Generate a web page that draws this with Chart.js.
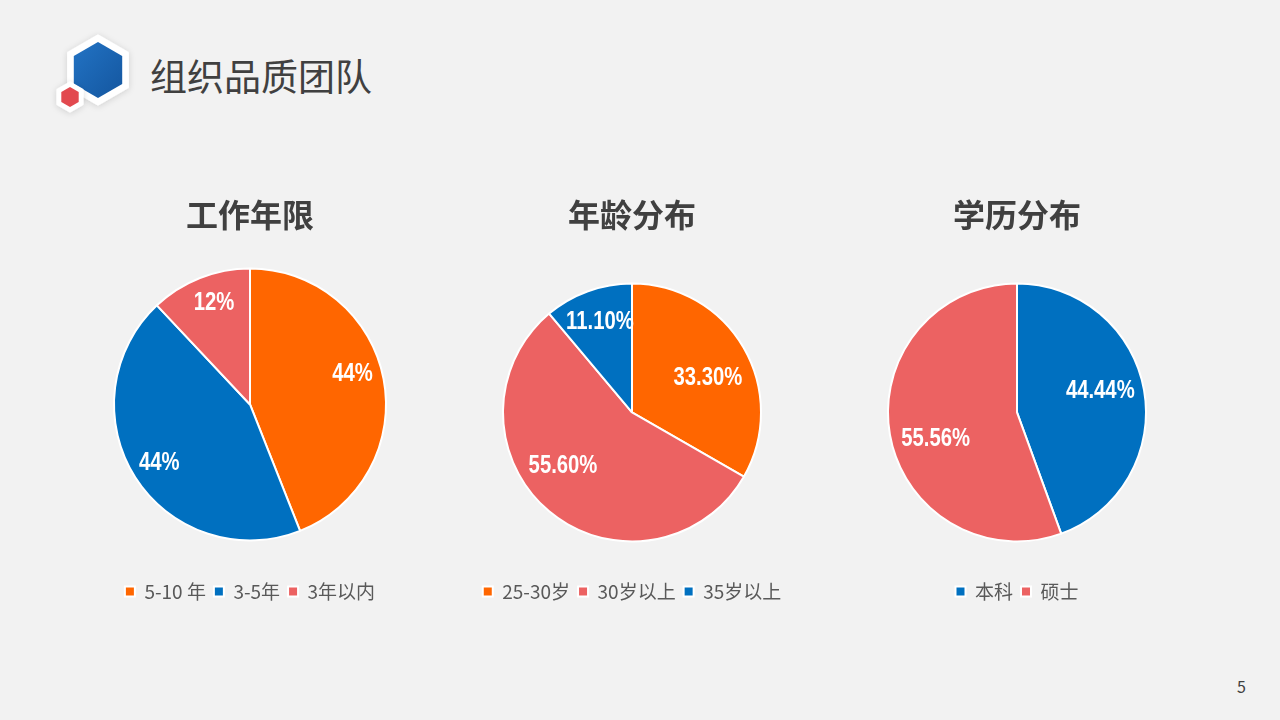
<!DOCTYPE html>
<html>
<head>
<meta charset="utf-8">
<script src="https://cdn.jsdelivr.net/npm/chart.js@4.4.1/dist/chart.umd.min.js"></script>
<style>
    html, body { margin: 0; padding: 0; background: #f2f2f2; }
    body {
        width: 1280px; height: 720px; position: relative; overflow: hidden;
        font-family: "Noto Sans CJK SC", "Noto Sans", sans-serif;
    }
    .logo { position: absolute; left: 0; top: 0; }
    .heading {
        position: absolute; left: 150px; top: 52px; height: 46px; line-height: 46px;
        font-size: 37px; color: #404040; font-weight: 400;
    }
    .page { position: absolute; left: 1237px; top: 674px; font-size: 16px; color: #404040; }
    canvas { position: absolute; top: 190px; }
</style>
</head>
<body>
<svg class="logo" width="160" height="130">
    <defs>
        <filter id="shadow" x="-30%" y="-30%" width="160%" height="160%">
            <feDropShadow dx="0" dy="1" stdDeviation="3" flood-color="#000" flood-opacity="0.15"/>
        </filter>
        <linearGradient id="blueGrad" x1="0" y1="0" x2="1" y2="1">
            <stop offset="0" stop-color="#2273c4"/>
            <stop offset="1" stop-color="#14569f"/>
        </linearGradient>
    </defs>
    <polygon points="98,36 127.4,53 127.4,87 98,104 68.6,87 68.6,53" fill="#fff" stroke="#fff" stroke-width="3" stroke-linejoin="round" filter="url(#shadow)"/>
    <polygon points="98,42 122.2,56 122.2,84 98,98 73.8,84 73.8,56" fill="url(#blueGrad)"/>
    <polygon points="70,83 82.1,90 82.1,104 70,111 57.9,104 57.9,90" fill="#fff" stroke="#fff" stroke-width="3" stroke-linejoin="round" filter="url(#shadow)"/>
    <polygon points="70,87 78.7,92 78.7,102 70,107 61.3,102 61.3,92" fill="#e2494f"/>
</svg>
<div class="heading">组织品质团队</div>
<div class="page">5</div>

<canvas id="yearsChart" width="380" height="421" style="left:60px"></canvas>
<canvas id="ageChart" width="380" height="421" style="left:442px"></canvas>
<canvas id="eduChart" width="380" height="421" style="left:827px"></canvas>

<script>
    // Work years
    const yearsLabels = ["5-10 年", "3-5年", "3年以内"];
    const yearsValues = [44, 44, 12];
    const yearsColors = ["#ff6600", "#0070c0", "#ec6262"];

    // Age
    const ageLabels = ["25-30岁", "30岁以上", "35岁以上"];
    const ageValues = [33.3, 55.6, 11.1];
    const ageColors = ["#ff6600", "#ec6262", "#0070c0"];

    // Education
    const eduLabels = ["本科", "硕士"];
    const eduValues = [44.44, 55.56];
    const eduColors = ["#0070c0", "#ec6262"];

    const CJK = "'Noto Sans CJK SC', 'Noto Sans', sans-serif";

    /*
     * White percentage labels inside the slices (condensed bold) */
    const sliceLabels = {
        id: "sliceLabels",
        afterDatasetsDraw(chart, args, opts) {
            const ctx = chart.ctx;
            const values = chart.data.datasets[0].data;
            const squeeze = 0.78;
            chart.getDatasetMeta(0).data.forEach((arc, i) => {
                const p = arc.getProps(["x", "y", "startAngle", "endAngle", "outerRadius"], true);
                const mid = (p.startAngle + p.endAngle) / 2 + (opts.nudge[i] || 0) * Math.PI / 180;
                const r = p.outerRadius * opts.dist[i];
                ctx.save();
                ctx.translate(p.x + Math.cos(mid) * r, p.y + Math.sin(mid) * r);
                ctx.scale(squeeze, 1);
                ctx.font = "bold 26px 'Liberation Sans', Arial, sans-serif";
                ctx.fillStyle = "#ffffff";
                ctx.textAlign = "center";
                ctx.textBaseline = "middle";
                ctx.fillText(values[i].toFixed(opts.decimals) + "%", 0, 1);
                ctx.restore();
            });
        },
    };

    const makePie = (id, title, labels, values, colors, radius, titleGap, labelOpts) => {
        new Chart(document.getElementById(id), {
            type: "pie",
            data: {
                labels: labels,
                datasets: [
                    {
                        data: values,
                        backgroundColor: colors,
                        borderColor: "#ffffff",
                        borderWidth: 2,
                        radius: radius,
                    },
                ],
            },
            options: {
                responsive: false,
                animation: false,
                plugins: {
                    title: {
                        display: true,
                        text: title,
                        color: "#404040",
                        font: { size: 32, weight: "bold", family: CJK },
                        padding: { top: 6, bottom: titleGap },
                    },
                    legend: {
                        position: "bottom",
                        labels: {
                            boxWidth: 10,
                            boxHeight: 10,
                            padding: 8,
                            color: "#595959",
                            font: { size: 19, family: CJK },
                        },
                    },
                    tooltip: { enabled: false },
                    sliceLabels: labelOpts,
                },
            },
            plugins: [sliceLabels],
        });
    };

    makePie("yearsChart", "工作年限", yearsLabels, yearsValues, yearsColors, 136, 0.5,
        { decimals: 0, dist: [0.79, 0.79, 0.8], nudge: [-6.5, 0, 2.3] });
    makePie("ageChart", "年龄分布", ageLabels, ageValues, ageColors, 129, 16.5,
        { decimals: 2, dist: [0.65, 0.67, 0.75], nudge: [4.8, 13, 0.6] });
    makePie("eduChart", "学历分布", eduLabels, eduValues, eduColors, 129, 16.5,
        { decimals: 2, dist: [0.67, 0.66], nudge: [-5.5, -7] });
</script>
</body>
</html>
